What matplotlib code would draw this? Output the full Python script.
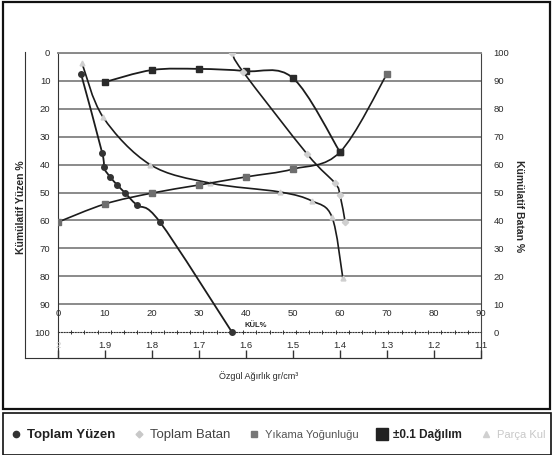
import numpy as np
import matplotlib
matplotlib.use("Agg")
import matplotlib.pyplot as plt
from matplotlib.path import Path
from matplotlib.patches import PathPatch, Rectangle
from matplotlib.lines import Line2D

plt.rcParams['font.family'] = ['Liberation Sans', 'DejaVu Sans']

# values
yuzen_kul = [4.9, 9.4, 9.7, 11.1, 12.6, 14.3, 16.8, 21.7, 37.0]
yuzen_pct = [7.5, 35.8, 40.9, 44.4, 47.3, 50.2, 54.5, 60.6, 100.0]

batan_kul = [37.0, 39.4, 53.0, 58.9, 60.0, 61.1]
batan_pct = [100.0, 93.2, 63.8, 53.4, 49.1, 39.4]

parca_kul = [5.1, 9.6, 19.6, 32.3, 47.2, 54.0, 58.3, 60.6]
parca_pct = [3.6, 23.0, 40.0, 46.6, 49.8, 53.0, 58.8, 80.6]

yikama_yog = [2.0, 1.9, 1.8, 1.7, 1.6, 1.5, 1.4, 1.3]
yikama_pct = [60.6, 54.1, 50.2, 47.3, 44.4, 41.6, 35.5, 7.5]

dagilim_yog = [1.9, 1.8, 1.7, 1.6, 1.5, 1.4]
dagilim_pct = [10.4, 6.1, 5.7, 6.5, 9.0, 35.5]

kul_ticks = [0, 10, 20, 30, 40, 50, 60, 70, 80, 90]
yog_ticks = [2.0, 1.9, 1.8, 1.7, 1.6, 1.5, 1.4, 1.3, 1.2, 1.1]
yog_labels = ['2', '1.9', '1.8', '1.7', '1.6', '1.5', '1.4', '1.3', '1.2', '1.1']
pct_ticks = [0, 10, 20, 30, 40, 50, 60, 70, 80, 90, 100]

W, H = 553, 455
LINE = '#1c1c1c'
TXT = '#2a2a2a'


def smooth(ax, x, y, **kw):
    # excel style smoothed line: bezier through the points
    p = np.column_stack([x, y]).astype(float)
    e = np.vstack([p[0], p, p[-1]])
    verts = [p[0]]
    for i in range(len(p) - 1):
        a, b, c, d = e[i], e[i + 1], e[i + 2], e[i + 3]
        verts += [b + (c - a) / 6, c - (d - b) / 6, c]
    codes = [Path.MOVETO] + [Path.CURVE4] * (3 * (len(p) - 1))
    ax.add_patch(PathPatch(Path(verts, codes), fill=False, **kw))


fig = plt.figure(figsize=(W / 100, H / 100), dpi=100)

# outer boxes
fig.patches.append(Rectangle((3 / W, 1 - 409 / H), 547 / W, 407 / H, transform=fig.transFigure,
                             fill=False, ec='#111111', lw=1.6))
fig.patches.append(Rectangle((3 / W, 0), 548 / W, 1 - 413 / H, transform=fig.transFigure,
                             fill=False, ec='#111111', lw=1.2))

# frame that carries the left label line
bg = fig.add_axes([25 / W, 1 - 358 / H, (481 - 25) / W, (358 - 52) / H])
bg.patch.set_visible(False)
bg.set_xticks([])
bg.set_yticks([])
for s in ['top', 'right']:
    bg.spines[s].set_visible(False)
bg.spines['left'].set_color('#333333')
bg.spines['bottom'].set_color('#333333')

ax = fig.add_axes([58 / W, 1 - 358 / H, (481 - 58) / W, (358 - 53) / H])
ax.patch.set_visible(False)
ax.set_xlim(0, 90)
ax.set_ylim(109.3, 0)
ax.set_yticks(pct_ticks)
ax.set_yticklabels([str(v) for v in pct_ticks])
ax.set_xticks(kul_ticks)
ax.set_xticklabels([str(v) for v in kul_ticks])
ax.tick_params(axis='y', length=0, pad=5.5, labelsize=6.8, labelcolor=TXT)
ax.tick_params(axis='x', length=0, pad=-35, labelsize=6.8, labelcolor=TXT)
ax.yaxis.grid(True, color='#8a8a8a', lw=1.4)
ax.get_ygridlines()[-1].set_visible(False)
ax.set_axisbelow(True)
ax.spines['top'].set_color('#8a8a8a')
ax.spines['top'].set_linewidth(1.4)
ax.spines['bottom'].set_visible(False)
ax.spines['left'].set_color('#333333')
ax.spines['right'].set_color('#444444')

# dotted ash axis on the 100 line
kul_ax = ax.secondary_xaxis((109.3 - 100) / 109.3)
kul_ax.set_xticks(np.linspace(0, 90, 33))
kul_ax.tick_params(length=2.5, width=0.7, direction='inout', labelbottom=False, labeltop=False,
                   color='#333333')
for s in kul_ax.spines.values():
    s.set_linestyle((0, (1, 1.5)))
    s.set_color('#333333')
ax.text(42, 97.8, 'KÜL%', fontsize=5.5, ha='center', va='center', color=TXT, weight='bold')

# density axis
ax_d = ax.twiny()
ax_d.set_xlim(2.0, 1.1)
ax_d.xaxis.set_ticks_position('bottom')
ax_d.set_xticks(yog_ticks)
ax_d.set_xticklabels(yog_labels)
ax_d.tick_params(axis='x', direction='in', length=6, width=1, pad=-12.5, labelsize=6.8,
                 labelcolor=TXT, color='#333333')
ax_d.get_xticklabels()[0].set_color('#cccccc')
for s in ['top', 'left', 'right']:
    ax_d.spines[s].set_visible(False)
ax_d.spines['bottom'].set_color('#333333')

# right axis
ax_r = ax.twinx()
ax_r.set_ylim(-9.3, 100)
ax_r.set_yticks(pct_ticks)
ax_r.tick_params(axis='y', length=0, pad=9, labelsize=6.8, labelcolor=TXT)
for s in ax_r.spines.values():
    s.set_visible(False)

# series
smooth(ax, yuzen_kul, yuzen_pct, ec=LINE, lw=1.3)
ax.plot(yuzen_kul, yuzen_pct, ls='none', marker='o', ms=4, color='#333333')

smooth(ax_r, batan_kul, batan_pct, ec=LINE, lw=1.2)
ax_r.plot(batan_kul, batan_pct, ls='none', marker='D', ms=3.2, color='#cfcfcf')

smooth(ax, parca_kul, parca_pct, ec=LINE, lw=1.2)
ax.plot(parca_kul, parca_pct, ls='none', marker='^', ms=3.5, color='#cfcfcf')

smooth(ax_d, yikama_yog, yikama_pct, ec=LINE, lw=1.2)
ax_d.plot(yikama_yog, yikama_pct, ls='none', marker='s', ms=3.8, color='#6e6e6e')

smooth(ax_d, dagilim_yog, dagilim_pct, ec=LINE, lw=1.3)
ax_d.plot(dagilim_yog, dagilim_pct, ls='none', marker='s', ms=4.2, color='#2a2a2a')

ax.set_xlim(0, 90)
ax.set_ylim(109.3, 0)
ax_d.set_xlim(2.0, 1.1)
ax_r.set_ylim(-9.3, 100)

# axis titles
fig.text(21 / W, 1 - 207 / H, 'Kümülatif Yüzen %', rotation=90, fontsize=7.5, ha='center',
         va='center', color=TXT, weight='bold')
fig.text(519 / W, 1 - 206 / H, 'Kümülatif Batan %', rotation=270, fontsize=7.5, ha='center',
         va='center', color=TXT, weight='bold')
fig.text(259 / W, 1 - 376 / H, 'Özgül Ağırlık gr/cm³', fontsize=6.5, ha='center', va='center',
         color=TXT)

# legend strip
handles = [
    Line2D([], [], ls='none', marker='o', ms=4.5, color='#333333'),
    Line2D([], [], ls='none', marker='D', ms=3.5, color='#c8c8c8'),
    Line2D([], [], ls='none', marker='s', ms=4, color='#777777'),
    Line2D([], [], ls='none', marker='s', ms=8, color='#222222'),
    Line2D([], [], ls='none', marker='^', ms=4, color='#d0d0d0'),
]
names = ['Toplam Yüzen', 'Toplam Batan', 'Yıkama Yoğunluğu', '±0.1 Dağılım', 'Parça Kul']
leg = fig.legend(handles, names, loc='center left', bbox_to_anchor=(10 / W, 1 - 435 / H), ncol=5,
                 frameon=False, handlelength=0.8, handletextpad=0.4, columnspacing=1.3,
                 borderpad=0, borderaxespad=0)
sizes = [9.5, 9.5, 8, 8.5, 8]
colors = ['#222222', '#444444', '#555555', '#222222', '#c8c8c8']
weights = ['bold', 'normal', 'normal', 'bold', 'normal']
for t, s, c, w in zip(leg.get_texts(), sizes, colors, weights):
    t.set_fontsize(s)
    t.set_color(c)
    t.set_weight(w)

fig.savefig('out.png', dpi=100)
